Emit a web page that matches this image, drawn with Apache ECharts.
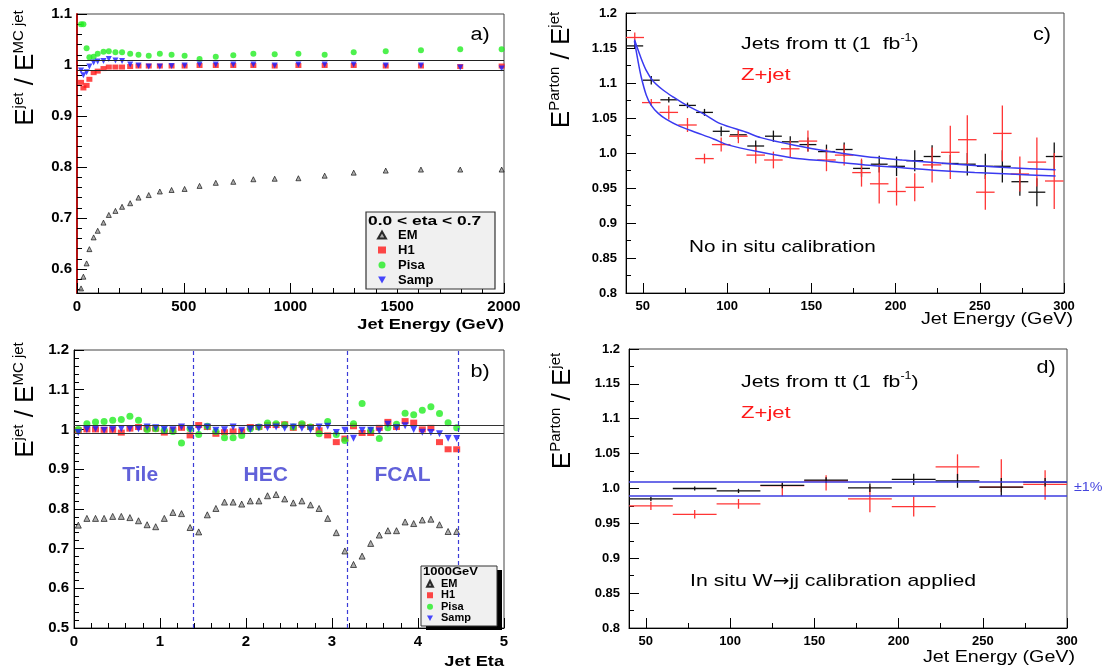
<!DOCTYPE html>
<html><head><meta charset="utf-8">
<script src="https://cdn.jsdelivr.net/npm/echarts@6/dist/echarts.min.js"></script>
<style>html,body{margin:0;padding:0;background:#fff}#c{width:1109px;height:671px}</style>
</head><body><div id="c"></div>
<script>
// ---------- Panel a: response vs jet energy (0.0 < eta < 0.7) ----------
const aEnergy = [19,30,45,58,78,97,124,149,180,211,249,288,336,388,443,504,574,650,732,826,926,1037,1160,1296,1446,1611,1795,1989];
const aEM   = [0.562,0.585,0.611,0.639,0.662,0.675,0.691,0.706,0.714,0.722,0.729,0.740,0.745,0.752,0.755,0.757,0.763,0.769,0.771,0.776,0.777,0.778,0.783,0.789,0.793,0.795,0.795,0.795];
const aH1   = [0.966,0.955,0.960,0.972,0.985,0.988,0.993,0.996,0.996,0.996,0.997,0.998,0.998,0.998,0.998,0.998,0.999,0.999,0.999,0.999,0.998,0.999,0.999,0.999,0.998,0.998,0.997,0.998];
const aPisa = [1.080,1.080,1.033,1.015,1.016,1.022,1.026,1.027,1.025,1.025,1.022,1.020,1.018,1.022,1.020,1.018,1.012,1.016,1.019,1.022,1.021,1.022,1.020,1.025,1.027,1.029,1.031,1.031];
const aSamp = [0.989,0.980,0.986,0.997,1.005,1.007,1.008,1.012,1.009,1.008,1.001,0.999,0.997,0.997,0.998,0.999,1.001,1.001,1.001,1.001,0.999,1.001,1.001,1.001,0.999,0.999,0.995,0.993];
const aXTicks = [0,500,1000,1500,2000];
const aXLabels = ['0','500','1000','1500','2000'];
const aYTicks = [0.6,0.7,0.8,0.9,1.0,1.1];
const aYLabels = ['0.6','0.7','0.8','0.9','1','1.1'];

// ---------- Panel b: response vs jet eta (1000 GeV) ----------
const bEta  = [0.05,0.15,0.25,0.35,0.45,0.55,0.65,0.75,0.85,0.95,1.05,1.15,1.25,1.35,1.45,1.55,1.65,1.75,1.85,1.95,2.05,2.15,2.25,2.35,2.45,2.55,2.65,2.75,2.85,2.95,3.05,3.15,3.25,3.35,3.45,3.55,3.65,3.75,3.85,3.95,4.05,4.15,4.25,4.35,4.45];
const bEM   = [0.759,0.776,0.776,0.776,0.781,0.781,0.778,0.770,0.760,0.755,0.776,0.791,0.788,0.753,0.742,0.785,0.801,0.817,0.817,0.812,0.820,0.820,0.833,0.836,0.825,0.815,0.820,0.810,0.801,0.776,0.740,0.694,0.660,0.681,0.713,0.734,0.745,0.745,0.767,0.763,0.772,0.774,0.760,0.743,0.743];
const bH1   = [0.998,1.000,1.000,0.999,0.999,0.992,1.002,1.006,1.002,1.002,0.992,0.998,1.004,0.985,1.011,1.006,0.989,0.993,0.995,0.995,1.006,1.006,1.011,1.011,1.013,1.004,1.012,1.006,0.998,0.985,0.968,0.977,1.008,0.991,0.991,1.004,1.019,1.006,1.021,1.017,1.000,1.004,0.968,0.950,0.950];
const bPisa = [1.000,1.014,1.019,1.020,1.023,1.025,1.033,1.023,1.000,1.002,0.998,0.995,0.966,1.002,0.987,1.008,0.995,0.979,0.979,0.985,1.002,1.006,1.016,1.014,1.012,1.006,1.014,1.006,0.989,1.020,0.987,0.972,1.014,1.065,0.998,0.977,1.004,1.013,1.041,1.037,1.048,1.057,1.040,1.017,1.004];
const bSamp = [0.992,1.000,1.002,0.998,1.000,1.002,1.002,1.002,1.006,1.004,1.000,0.999,1.006,0.999,1.002,1.006,0.998,0.999,1.006,0.998,1.000,1.004,1.004,1.006,1.003,1.006,1.003,0.999,1.006,1.008,0.992,0.998,0.978,0.998,0.998,0.996,1.013,1.004,1.009,1.000,0.993,0.992,0.989,0.978,0.977];
const bBoundaries = [1.39,3.18,4.47];
const bRegions = [{name:'Tile', eta:0.77}, {name:'HEC', eta:2.23}, {name:'FCAL', eta:3.82}];
const bXTicks = [0,1,2,3,4,5];
const bXLabels = ['0','1','2','3','4','5'];
const bYTicks = [0.5,0.6,0.7,0.8,0.9,1.0,1.1,1.2];
const bYLabels = ['0.5','0.6','0.7','0.8','0.9','1','1.1','1.2'];

// ---------- Panel c: no in situ calibration ----------
const cE        = [45.2,55,65.4,76.5,86.6,96.5,106.7,117,127.5,137.5,148,159,169.5,179.8,190.3,200.6,211.4,221.7,232.5,242.6,253.3,263.4,273.8,283.9,294.2];
const cTT       = [1.153,1.104,1.076,1.068,1.058,1.031,1.026,1.010,1.024,1.016,1.012,1.002,1.005,0.978,0.984,0.981,0.989,0.995,0.985,0.984,0.981,0.981,0.959,0.944,0.995];
const cTTErr    = [0.003,0.006,0.004,0.004,0.005,0.007,0.006,0.008,0.008,0.008,0.010,0.010,0.010,0.012,0.012,0.014,0.015,0.016,0.012,0.016,0.018,0.023,0.020,0.020,0.020];
const cZ        = [1.165,1.072,1.058,1.040,0.992,1.012,1.024,0.997,0.990,1.006,1.017,0.990,0.997,0.972,0.956,0.945,0.951,0.983,1.001,1.019,0.944,1.028,0.970,0.987,0.960];
const cZErr     = [0.007,0.005,0.010,0.010,0.007,0.010,0.010,0.012,0.012,0.012,0.015,0.016,0.015,0.020,0.028,0.020,0.020,0.025,0.038,0.035,0.025,0.040,0.025,0.035,0.040];
const cBinHalf  = 5;
const cFitUpperE = [45,49,52,56,62,68,76,86,96,111,120,140,161,182,204,225,247,268,295];
const cFitUpper  = [1.162,1.135,1.118,1.103,1.090,1.080,1.068,1.056,1.042,1.030,1.022,1.011,1.002,0.995,0.990,0.986,0.982,0.979,0.976];
const cFitLowerE = [45,47,49,52,55,59,64,72,82,92,100,118,139,161,182,204,225,247,268,295];
const cFitLower  = [1.160,1.133,1.109,1.083,1.068,1.057,1.048,1.038,1.029,1.020,1.012,1.002,0.993,0.988,0.983,0.979,0.975,0.972,0.970,0.967];

// ---------- Panel d: in situ W->jj calibration applied ----------
const dE       = [53,79,105,131,157,183,209,235,261,287];
const dBinHalf = 13;
const dTT      = [0.985,1.000,0.9965,1.0045,1.012,1.001,1.013,1.011,1.002,1.009];
const dTTErr   = [0.003,0.003,0.003,0.004,0.004,0.006,0.008,0.010,0.013,0.006];
const dZ       = [0.975,0.963,0.978,1.004,1.011,0.985,0.974,1.031,1.002,1.006];
const dZLo     = [0.006,0.006,0.007,0.015,0.014,0.019,0.014,0.018,0.007,0.022];
const dZHi     = [0.006,0.006,0.007,0.003,0.008,0.019,0.014,0.018,0.040,0.020];

const cdXTicks = [50,100,150,200,250,300];
const cdXLabels = ['50','100','150','200','250','300'];
const cdYTicks = [0.8,0.85,0.9,0.95,1.0,1.05,1.1,1.15,1.2];
const cdYLabels = ['0.8','0.85','0.9','0.95','1.0','1.05','1.1','1.15','1.2'];

// ---------- helpers ----------
const FONT = '"Liberation Sans", Arial, sans-serif';
const zip = (xs, ys) => xs.map((x, i) => [x, ys[i]]);
function steps(a, b, s, exclude) {
  const out = [];
  const n = Math.round((b - a) / s);
  for (let i = 0; i <= n; i++) {
    const v = +(a + i * s).toFixed(6);
    if (!exclude.some(e => Math.abs(e - v) < 1e-6)) out.push(v);
  }
  return out;
}
function fmt(ticks, labels) {
  return v => { const i = ticks.findIndex(t => Math.abs(t - v) < 1e-6); return i >= 0 ? labels[i] : ''; };
}
function mainAxis(gi, pos, min, max, ticks, labels, fs, margin, lineColor) {
  return {
    gridIndex: gi, type: 'value', position: pos, min, max,
    axisLine: {show: true, onZero: false, lineStyle: {color: lineColor || '#000', width: lineColor ? 2 : 1}},
    axisTick: {show: true, inside: true, length: 10, customValues: ticks, lineStyle: {color: '#000'}},
    axisLabel: {show: true, customValues: ticks, formatter: fmt(ticks, labels), margin,
      fontFamily: FONT, fontSize: fs, fontWeight: 'bold', color: '#000'},
    splitLine: {show: false}
  };
}
function minorAxis(gi, pos, min, max, ticks) {
  return {
    gridIndex: gi, type: 'value', position: pos, min, max,
    axisLine: {show: false},
    axisTick: {show: true, inside: true, length: 5, customValues: ticks, lineStyle: {color: '#000'}},
    axisLabel: {show: false, customValues: ticks},
    splitLine: {show: false}
  };
}
function errRender(params, api) {
  const x = api.value(0), y = api.value(1), xe = api.value(2), lo = api.value(3), hi = api.value(4);
  const l = api.coord([x - xe, y]), r = api.coord([x + xe, y]);
  const t = api.coord([x, y + hi]), b = api.coord([x, y - lo]);
  const style = {stroke: api.visual('color'), lineWidth: 1.3};
  return {type: 'group', children: [
    {type: 'line', shape: {x1: l[0], y1: l[1], x2: r[0], y2: r[1]}, style},
    {type: 'line', shape: {x1: t[0], y1: t[1], x2: b[0], y2: b[1]}, style}
  ]};
}

const grids = [
  {left: 77, top: 14, width: 427, height: 279},
  {left: 74, top: 350, width: 430, height: 278},
  {left: 626, top: 13, width: 438, height: 280},
  {left: 629, top: 349, width: 438, height: 279}
].map(g => Object.assign(g, {show: true, borderColor: '#444', borderWidth: 1, backgroundColor: 'transparent', containLabel: false}));

const xAxes = [
  mainAxis(0, 'bottom', 0, 2000, aXTicks, aXLabels, 15, 6),
  mainAxis(1, 'bottom', 0, 5, bXTicks, bXLabels, 15, 6),
  mainAxis(2, 'bottom', 40, 300, cdXTicks, cdXLabels, 13, 7),
  mainAxis(3, 'bottom', 40, 300, cdXTicks, cdXLabels, 13, 7),
  minorAxis(0, 'bottom', 0, 2000, steps(0, 2000, 100, aXTicks)),
  minorAxis(1, 'bottom', 0, 5, steps(0, 5, 0.2, bXTicks)),
  minorAxis(2, 'bottom', 40, 300, steps(75, 275, 50, cdXTicks)),
  minorAxis(3, 'bottom', 40, 300, steps(75, 275, 50, cdXTicks))
];
const yAxes = [
  mainAxis(0, 'left', 0.553, 1.1, aYTicks, aYLabels, 15, 5, '#b01010'),
  mainAxis(1, 'left', 0.5, 1.2, bYTicks, bYLabels, 15, 5),
  mainAxis(2, 'left', 0.8, 1.2, cdYTicks, cdYLabels, 13, 9),
  mainAxis(3, 'left', 0.8, 1.2, cdYTicks, cdYLabels, 13, 9),
  minorAxis(0, 'left', 0.553, 1.1, steps(0.56, 1.1, 0.02, aYTicks)),
  minorAxis(1, 'left', 0.5, 1.2, steps(0.5, 1.2, 0.02, bYTicks)),
  minorAxis(2, 'left', 0.8, 1.2, steps(0.825, 1.175, 0.05, cdYTicks)),
  minorAxis(3, 'left', 0.8, 1.2, steps(0.825, 1.175, 0.05, cdYTicks))
];

const INV_TRI = 'path://M0,0L10,0L5,9Z';
function markerSeries(axis, xs, em, h1, pisa, samp, sz) {
  const common = {type: 'scatter', xAxisIndex: axis, yAxisIndex: axis, z: 4};
  return [
    Object.assign({}, common, {name: 'EM', data: zip(xs, em), symbol: 'triangle', symbolSize: sz - 1,
      itemStyle: {color: '#9a9a9a', borderColor: '#000', borderWidth: 0.8}}),
    Object.assign({}, common, {name: 'H1', data: zip(xs, h1), symbol: 'rect', symbolSize: [sz, sz - 1],
      itemStyle: {color: '#ff1a1a'}}),
    Object.assign({}, common, {name: 'Pisa', data: zip(xs, pisa), symbol: 'circle', symbolSize: sz,
      itemStyle: {color: '#22ee22'}}),
    Object.assign({}, common, {name: 'Samp', data: zip(xs, samp), symbol: INV_TRI, symbolSize: sz,
      itemStyle: {color: '#1a1aff'}})
  ];
}

const series = [];
series.push({type: 'line', xAxisIndex: 0, yAxisIndex: 0, data: [], silent: true,
  markLine: {silent: true, symbol: 'none', label: {show: false}, animation: false,
    lineStyle: {color: '#222', type: 'solid', width: 1.2},
    data: [{yAxis: 1.01}, {yAxis: 0.99}]}});
series.push(...markerSeries(0, aEnergy, aEM, aH1, aPisa, aSamp, 6));
series.push({type: 'line', xAxisIndex: 1, yAxisIndex: 1, data: [], silent: true,
  markLine: {silent: true, symbol: 'none', label: {show: false}, animation: false,
    data: [
      {yAxis: 1.01, lineStyle: {color: '#333', type: 'solid', width: 1.2}},
      {yAxis: 0.99, lineStyle: {color: '#333', type: 'solid', width: 1.2}},
      ...bBoundaries.map(v => ({xAxis: v, lineStyle: {color: '#3b3bd8', type: [4, 3], width: 1.2}}))
    ]}});
series.push(...markerSeries(1, bEta, bEM, bH1, bPisa, bSamp, 7));
series.push({type: 'scatter', xAxisIndex: 1, yAxisIndex: 1, symbolSize: 0, silent: true,
  data: bRegions.map(r => ({value: [r.eta, 0.885], name: r.name})),
  label: {show: true, position: 'inside', formatter: p => p.name, color: '#3a3ad0',
    fontFamily: FONT, fontWeight: 'bold', fontSize: 21}});

series.push({type: 'custom', name: 'tt', xAxisIndex: 2, yAxisIndex: 2, renderItem: errRender, clip: true,
  itemStyle: {color: '#111'}, z: 3,
  data: cE.map((x, i) => [x, cTT[i], cBinHalf, cTTErr[i], cTTErr[i]])});
series.push({type: 'custom', name: 'Zjet', xAxisIndex: 2, yAxisIndex: 2, renderItem: errRender, clip: true,
  itemStyle: {color: '#ff3535'}, z: 4,
  data: cE.map((x, i) => [x, cZ[i], cBinHalf + 0.5, cZErr[i], cZErr[i]])});
series.push({type: 'line', name: 'fitUpper', xAxisIndex: 2, yAxisIndex: 2, showSymbol: false, smooth: 0.3,
  lineStyle: {color: '#3a3af0', width: 1.5}, z: 5, data: zip(cFitUpperE, cFitUpper)});
series.push({type: 'line', name: 'fitLower', xAxisIndex: 2, yAxisIndex: 2, showSymbol: false, smooth: 0.3,
  lineStyle: {color: '#3a3af0', width: 1.5}, z: 5, data: zip(cFitLowerE, cFitLower)});

series.push({type: 'custom', name: 'Zjet d', xAxisIndex: 3, yAxisIndex: 3, renderItem: errRender, clip: true,
  itemStyle: {color: '#ff3535'}, z: 3,
  data: dE.map((x, i) => [x, dZ[i], dBinHalf, dZLo[i], dZHi[i]])});
series.push({type: 'custom', name: 'tt d', xAxisIndex: 3, yAxisIndex: 3, renderItem: errRender, clip: true,
  itemStyle: {color: '#111'}, z: 4,
  data: dE.map((x, i) => [x, dTT[i], dBinHalf, dTTErr[i], dTTErr[i]]),
  markLine: {silent: true, symbol: 'none', label: {show: false}, animation: false,
    lineStyle: {color: '#3b3be0', type: 'solid', width: 1.5},
    data: [{yAxis: 1.01}, {yAxis: 0.99}]}});

// ---------- texts ----------
const bigE = {fontFamily: FONT, fontSize: 26, verticalAlign: 'bottom', lineHeight: 28, color: '#000'};
const supS = {fontFamily: FONT, fontSize: 15, verticalAlign: 'top', lineHeight: 15, color: '#000'};
function rotTitle(x, y, text) {
  return {type: 'text', x, y, rotation: Math.PI / 2, z: 10,
    style: {text, align: 'center', verticalAlign: 'middle', rich: {e: bigE, s: supS}}};
}
const SX = 1.25;
function txt(x, y, text, opts, sx) {
  return {type: 'text', x, y, z: 10, scaleX: sx || 1, style: Object.assign({text, fontFamily: FONT, fontSize: 17,
    fill: '#000', align: 'left', verticalAlign: 'middle'}, opts || {})};
}
const nRich = {
  n: {fontFamily: FONT, fontSize: 17, color: '#000', verticalAlign: 'bottom', lineHeight: 20},
  s: {fontFamily: FONT, fontSize: 10, color: '#000', verticalAlign: 'top', lineHeight: 10},
  a: {fontFamily: '"DejaVu Sans", sans-serif', fontSize: 16, color: '#000', verticalAlign: 'bottom', lineHeight: 20}
};
function richText(x, y, text) {
  return {type: 'text', x, y, z: 10, scaleX: SX, style: {text, rich: nRich, align: 'left', verticalAlign: 'middle'}};
}

const graphic = [
  {type: 'rect', shape: {x: 366, y: 212, width: 129, height: 77}, z: 6,
    style: {fill: '#f0f0f0', stroke: '#333', lineWidth: 1.2}},
  txt(368, 222, '0.0 < eta < 0.7', {fontSize: 12, fontWeight: 'bold'}, 1.45),
  {type: 'rect', shape: {x: 426, y: 570, width: 76, height: 60}, z: 6, style: {fill: '#000'}},
  {type: 'rect', shape: {x: 421, y: 566, width: 76, height: 60}, z: 6,
    style: {fill: '#f0f0f0', stroke: '#333', lineWidth: 1}},
  txt(423, 572, '1000GeV', {fontSize: 10, fontWeight: 'bold'}, 1.3),
  txt(480, 35, 'a)', {align: 'center', fontSize: 18}, 1.2),
  txt(480, 372, 'b)', {align: 'center', fontSize: 18}, 1.2),
  txt(1042, 35, 'c)', {align: 'center', fontSize: 18}, 1.2),
  txt(1046, 368, 'd)', {align: 'center', fontSize: 18}, 1.2),
  rotTitle(25, 68, '{e|E}{s|jet}{e| / E}{s|MC jet}'),
  rotTitle(25, 400, '{e|E}{s|jet}{e| / E}{s|MC jet}'),
  rotTitle(561, 70, '{e|E}{s|Parton}{e| / E}{s|jet}'),
  rotTitle(562, 411, '{e|E}{s|Parton}{e| / E}{s|jet}'),
  txt(504, 325, 'Jet Energy (GeV)', {align: 'right', fontSize: 14, fontWeight: 'bold'}, 1.3),
  txt(504, 662, 'Jet Eta', {align: 'right', fontSize: 14, fontWeight: 'bold'}, 1.3),
  txt(1073, 320, 'Jet Energy (GeV)', {align: 'right', fontSize: 16}, 1.23),
  txt(1075, 658, 'Jet Energy (GeV)', {align: 'right', fontSize: 16}, 1.23),
  richText(741, 43, '{n|Jets from tt (1  fb}{s|-1}{n|)}'),
  txt(741, 75, 'Z+jet', {fill: '#ff1a1a'}, 1.3),
  txt(689, 247, 'No in situ calibration', {}, 1.22),
  richText(741, 381, '{n|Jets from tt (1  fb}{s|-1}{n|)}'),
  txt(741, 413, 'Z+jet', {fill: '#ff1a1a'}, 1.3),
  richText(690, 580, '{n|In situ W}{a|\u2192}{n|jj calibration applied}'),
  txt(1074, 487, '\u00b11%', {fill: '#4444dd', fontSize: 13}, 1.1)
];

const chart = echarts.init(document.getElementById('c'), null, {renderer: 'canvas'});
chart.setOption({
  animation: false,
  backgroundColor: '#fff',
  grid: grids,
  xAxis: xAxes,
  yAxis: yAxes,
  legend: [
    {left: 377, top: 228, orient: 'vertical', itemGap: 1, itemWidth: 8, itemHeight: 7, selectedMode: false,
      data: ['EM', 'H1', 'Pisa', 'Samp'], z: 8, padding: 0,
      textStyle: {fontFamily: FONT, fontSize: 13, fontWeight: 'bold', color: '#000', lineHeight: 14, padding: [0, 0, 0, 7]}},
    {left: 426, top: 578, orient: 'vertical', itemGap: 0, itemWidth: 6, itemHeight: 6, selectedMode: false,
      data: ['EM', 'H1', 'Pisa', 'Samp'], z: 8, padding: 0,
      textStyle: {fontFamily: FONT, fontSize: 11, fontWeight: 'bold', color: '#000', lineHeight: 11.5, padding: [0, 0, 0, 3]}}
  ],
  graphic,
  series
});
</script></body></html>
